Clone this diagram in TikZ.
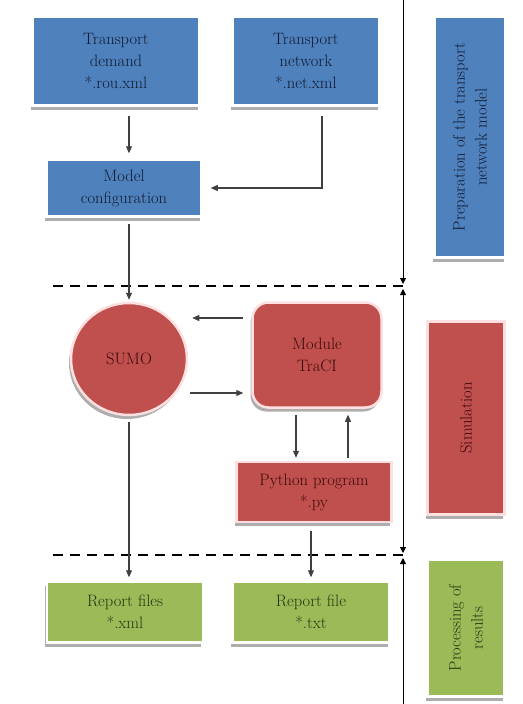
\documentclass[tikz,border=0pt]{standalone}
\usetikzlibrary{arrows.meta,shapes.geometric,shadows}

\definecolor{accblue}{HTML}{4F81BD}
\definecolor{accred}{HTML}{C0504D}
\definecolor{accgreen}{HTML}{9BBB59}
\definecolor{inkblue}{HTML}{101B33}
\definecolor{inkred}{HTML}{3A0A0A}
\definecolor{inkgreen}{HTML}{28340F}

\tikzset{
  box/.style={draw=white, line width=2.5pt, align=center, inner sep=2pt,
    font=\fontsize{16.5}{22}\selectfont,
    drop shadow={shadow xshift=-2pt, shadow yshift=-4pt, fill=black!45, opacity=0.7}},
  bluebox/.style={box, fill=accblue, text=inkblue},
  redbox/.style={box, fill=accred, draw=red!12, text=inkred},
  greenbox/.style={box, fill=accgreen, text=inkgreen},
  link/.style={-{Triangle[length=7pt,width=6pt]}, draw=black!75, line width=1.1pt},
  span/.style={draw=black, line width=1pt},
  septip/.tip={Triangle[length=6pt,width=6pt]},
  phase/.style={line width=2pt, dash pattern=on 10pt off 7pt},
}

\begin{document}
\begin{tikzpicture}[x=1pt, y=-1pt]
\useasboundingbox (0,0) rectangle (522,704);

% preparation of the model
\node[bluebox, minimum width=167pt, minimum height=89pt] (demand) at (116,61) {Transport\\demand\\*.rou.xml};
\node[bluebox, minimum width=147pt, minimum height=89pt] (network) at (306,61) {Transport\\network\\*.net.xml};
\node[bluebox, minimum width=155pt, minimum height=57pt] (config) at (124,188) {Model\\configuration};

% simulation
\node[redbox, ellipse, minimum width=116pt, minimum height=112pt] (sumo) at (129,359) {SUMO};
\node[redbox, rounded corners=16pt, minimum width=129pt, minimum height=105pt] (traci) at (317,355) {Module\\TraCI};
\node[redbox, minimum width=155pt, minimum height=60pt] (python) at (314,492) {Python program\\*.py};

% results
\node[greenbox, minimum width=156pt, minimum height=61pt] (xmlrep) at (125,612) {Report files\\*.xml};
\node[greenbox, minimum width=157pt, minimum height=61pt] (txtrep) at (311,612) {Report file\\*.txt};

% stage labels
\node[bluebox, rotate=90, minimum width=241pt, minimum height=71pt] (prep) at (470,137) {Preparation of the transport\\network model};
\node[redbox, rotate=90, minimum width=193pt, minimum height=77pt] (sim) at (466,418) {Simulation};
\node[greenbox, rotate=90, minimum width=137pt, minimum height=77pt] (proc) at (466,628) {Processing of\\results};

% stage separators
\coordinate (ax0) at (403,0);
\coordinate (ax1) at (403,284);
\coordinate (ax2) at (403,289);
\coordinate (ax3) at (403,553);
\coordinate (ax4) at (403,558);
\coordinate (ax5) at (403,704);
\coordinate (cut1) at (53,286);
\coordinate (cut2) at (53,555);
\draw[phase] (cut1) -- (cut1 -| ax1);
\draw[phase] (cut2) -- (cut2 -| ax1);
\draw[span, -septip] (ax0) -- (ax1);
\draw[span, septip-septip] (ax2) -- (ax3);
\draw[span, septip-] (ax4) -- (ax5);

% connectors
\draw[link, shorten <=9pt, shorten >=5pt] (demand.south -| sumo.north) -- (config.north -| sumo.north);
\draw[link, shorten <=9pt, shorten >=8pt] ([xshift=16pt]network.south) |- (config.east);
\draw[link, shorten <=6pt, shorten >=2pt] (config.south -| sumo.north) -- (sumo.north);
\draw[link, shorten <=8pt, shorten >=4pt] ([yshift=37pt]traci.west) -- ([yshift=37pt]traci.west -| sumo.east);
\draw[link, shorten <=2pt, shorten >=8pt] ([yshift=-38pt]traci.west -| sumo.east) -- ([yshift=-38pt]traci.west);
\draw[link, shorten <=6pt, shorten >=3pt] ([xshift=-21pt]traci.south) -- ([xshift=-21pt]traci.south |- python.north);
\draw[link, shorten <=3pt, shorten >=6pt] ([xshift=31pt]traci.south |- python.north) -- ([xshift=31pt]traci.south);
\draw[link, shorten <=6pt, shorten >=3pt] (sumo.south) -- (sumo.south |- xmlrep.north);
\draw[link, shorten <=8pt, shorten >=3pt] (python.south -| txtrep.north) -- (txtrep.north);
\end{tikzpicture}
\end{document}
